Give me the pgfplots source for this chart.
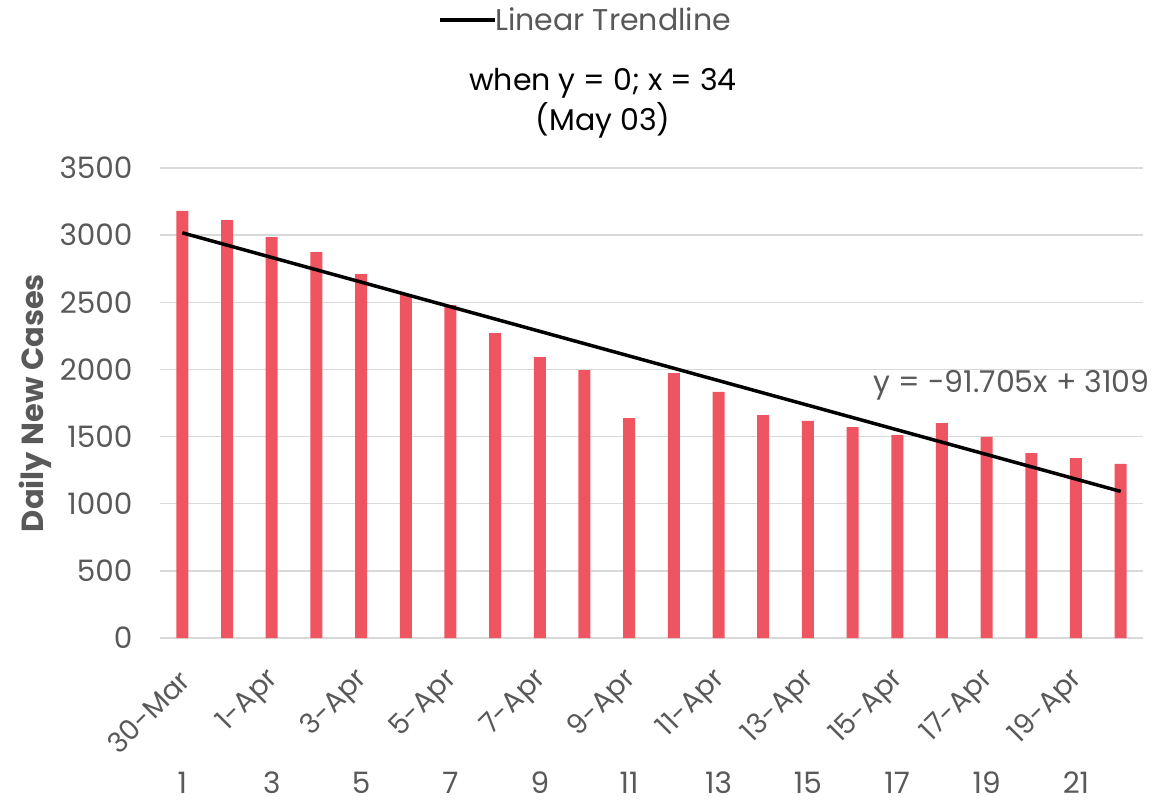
\documentclass[border=0pt]{standalone}
\usepackage{fontspec}
\setmainfont{Poppins}
\usepackage{pgfplots}
\pgfplotsset{compat=1.18}
\definecolor{barred}{RGB}{239,84,97}
\definecolor{txtgray}{RGB}{89,89,89}
\definecolor{gridgray}{RGB}{217,217,217}
\begin{document}
\begin{tikzpicture}
\begin{axis}[
  at={(0,0)}, anchor=south west,
  scale only axis, width=983pt, height=470pt,
  xmin=0.5, xmax=22.5, ymin=0, ymax=3500,
  ytick={0,500,...,3500},
  xtick={1,3,...,21},
  xticklabels={30-Mar,1-Apr,3-Apr,5-Apr,7-Apr,9-Apr,11-Apr,13-Apr,15-Apr,17-Apr,19-Apr},
  major tick length=0pt,
  axis line style={draw=none},
  ymajorgrids, major grid style={gridgray, line width=1.5pt},
  tick label style={font=\fontsize{29.5}{34}\selectfont, text=txtgray},
  x tick label style={font=\fontsize{28}{32}\selectfont, xshift=5pt, yshift=-35pt, rotate=45, anchor=east},
  y tick label style={xshift=-24pt},
  /pgf/number format/assume math mode=true,
  /pgf/number format/1000 sep={},
  ylabel={\textbf{Daily New Cases}},
  ylabel style={font=\fontsize{30.5}{34}\selectfont, text=txtgray, at={(rel axis cs:-0.127,0.5)}, anchor=center},
  legend style={at={(0.433,1.315)}, anchor=center, draw=none, fill=none, font=\fontsize{30}{34}\selectfont, text=txtgray, inner sep=0pt},
  legend image code/.code={\draw[line width=4pt] (0pt,0pt) -- (55pt,0pt);},
  legend cell align=left,
  clip=false,
]
\addplot[ybar, bar width=12pt, bar shift=0pt, fill=barred, draw=none, forget plot] coordinates {
(1,3180) (2,3112) (3,2986) (4,2874) (5,2710) (6,2561) (7,2479) (8,2271) (9,2092) (10,1995) (11,1638)
(12,1973) (13,1832) (14,1660) (15,1616) (16,1571) (17,1511) (18,1601) (19,1497) (20,1377) (21,1340) (22,1296)
};
\addplot[black, line width=3.5pt, no marks] coordinates {(1,3017.295) (22,1091.49)};
\addlegendentry{\hspace{-4pt}Linear Trendline}
\pgfplotsinvokeforeach{1,3,5,7,9,11,13,15,17,19,21}{
  \node[font=\fontsize{29.5}{34}\selectfont, text=txtgray, anchor=center] at (axis cs:#1,0) [yshift=-145pt] {#1};
}
\node[align=center, font=\fontsize{30}{40}\selectfont, text=black] at (rel axis cs:0.4507,1.138) {when y = 0; x = 34\\(May 03)};
\node[anchor=east, font=\fontsize{30}{34}\selectfont, text=txtgray, inner sep=0pt] at (rel axis cs:1.007,0.538) {y = -91.705x + 3109};
\end{axis}
\pgfresetboundingbox
\path (-160pt,-170pt) rectangle (1006pt,638pt);
\end{tikzpicture}
\end{document}
